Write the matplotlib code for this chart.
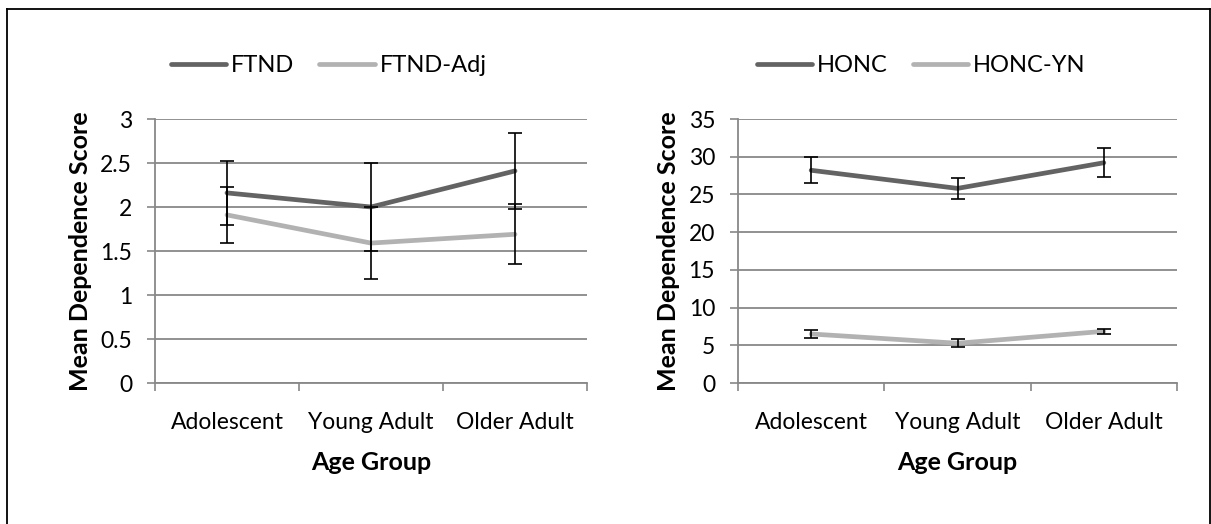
import matplotlib
matplotlib.use("Agg")
import matplotlib.pyplot as plt
from matplotlib.lines import Line2D

categories = ["Adolescent", "Young Adult", "Older Adult"]

ftnd = [2.16, 2.00, 2.41]
ftnd_err = [0.36, 0.50, 0.43]
ftnd_adj = [1.91, 1.59, 1.69]
ftnd_adj_err = [0.32, 0.41, 0.34]

honc = [28.2, 25.8, 29.2]
honc_err = [1.7, 1.4, 1.95]
honc_yn = [6.5, 5.27, 6.85]
honc_yn_err = [0.55, 0.53, 0.35]

left_yticks = [0, 0.5, 1, 1.5, 2, 2.5, 3]
right_yticks = [0, 5, 10, 15, 20, 25, 30, 35]

DARK = "#636363"
LIGHT = "#b2b2b2"
GRID = "#888888"
FONT = "Lato"
TICK_FS = 16.5
LABEL_FS = 18

plt.rcParams["font.family"] = [FONT, "DejaVu Sans"]

W, H = 1211, 524
fig = plt.figure(figsize=(W / 100, H / 100), dpi=100)


def fx(px):
    return px / W


def fy(py):
    return 1 - py / H


# outer border (left, top, right; bottom runs off the image)
for xs, ys in [((7, 7), (9, 530)), ((7, 1210), (9, 9)), ((1210, 1210), (9, 530))]:
    fig.add_artist(Line2D([fx(x) for x in xs], [fy(y) for y in ys], color="black",
                          lw=1.3, transform=fig.transFigure))


def make_panel(left_px, right_px, series, yticks, ylim, legend_x):
    ax = fig.add_axes([fx(left_px), fy(383), (right_px - left_px) / W, (383 - 119) / H])
    x = list(range(len(categories)))
    handles = []
    for vals, errs, col, name in series:
        ln, = ax.plot(x, vals, color=col, lw=3.4, label=name, zorder=3,
                      solid_capstyle="round", solid_joinstyle="round")
        ax.errorbar(x, vals, yerr=errs, fmt="none", ecolor="black", elinewidth=1.2,
                    capsize=5, capthick=1.2, zorder=4)
        handles.append(ln)
    ax.set_xlim(-0.5, len(categories) - 0.5)
    ax.set_ylim(*ylim)
    ax.set_yticks(yticks)
    ax.set_yticklabels([f"{t:g}" for t in yticks])
    ax.set_xticks(x)
    ax.set_xticklabels(categories)
    ax.set_xticks([i - 0.5 for i in range(len(categories) + 1)], minor=True)
    ax.tick_params(axis="x", which="major", length=0, pad=21, labelsize=TICK_FS)
    ax.tick_params(axis="x", which="minor", length=5.5, color=GRID, width=1.2)
    ax.tick_params(axis="y", length=5.5, color=GRID, width=1.2, labelsize=TICK_FS, pad=11)
    ax.yaxis.grid(True, color=GRID, lw=1.3)
    ax.set_axisbelow(True)
    for s in ["top", "right"]:
        ax.spines[s].set_visible(False)
    for s in ["left", "bottom"]:
        ax.spines[s].set_color(GRID)
        ax.spines[s].set_linewidth(1.3)
    ax.set_ylabel("Mean Dependence Score", fontsize=LABEL_FS, fontweight="bold", labelpad=6)
    ax.set_xlabel("Age Group", fontsize=LABEL_FS, fontweight="bold", labelpad=13)
    fig.legend(handles=handles, loc="center left", bbox_to_anchor=(fx(legend_x), fy(66)),
               ncol=2, frameon=False, fontsize=TICK_FS + 0.5, handlelength=2.35,
               columnspacing=1.05, handletextpad=0.2, borderpad=0, borderaxespad=0)
    return ax


make_panel(155, 587, [(ftnd, ftnd_err, DARK, "FTND"), (ftnd_adj, ftnd_adj_err, LIGHT, "FTND-Adj")],
           left_yticks, (0, 3), 171)
make_panel(738, 1177, [(honc, honc_err, DARK, "HONC"), (honc_yn, honc_yn_err, LIGHT, "HONC-YN")],
           right_yticks, (0, 35), 757)

fig.savefig("out.png", dpi=100, facecolor="white")
